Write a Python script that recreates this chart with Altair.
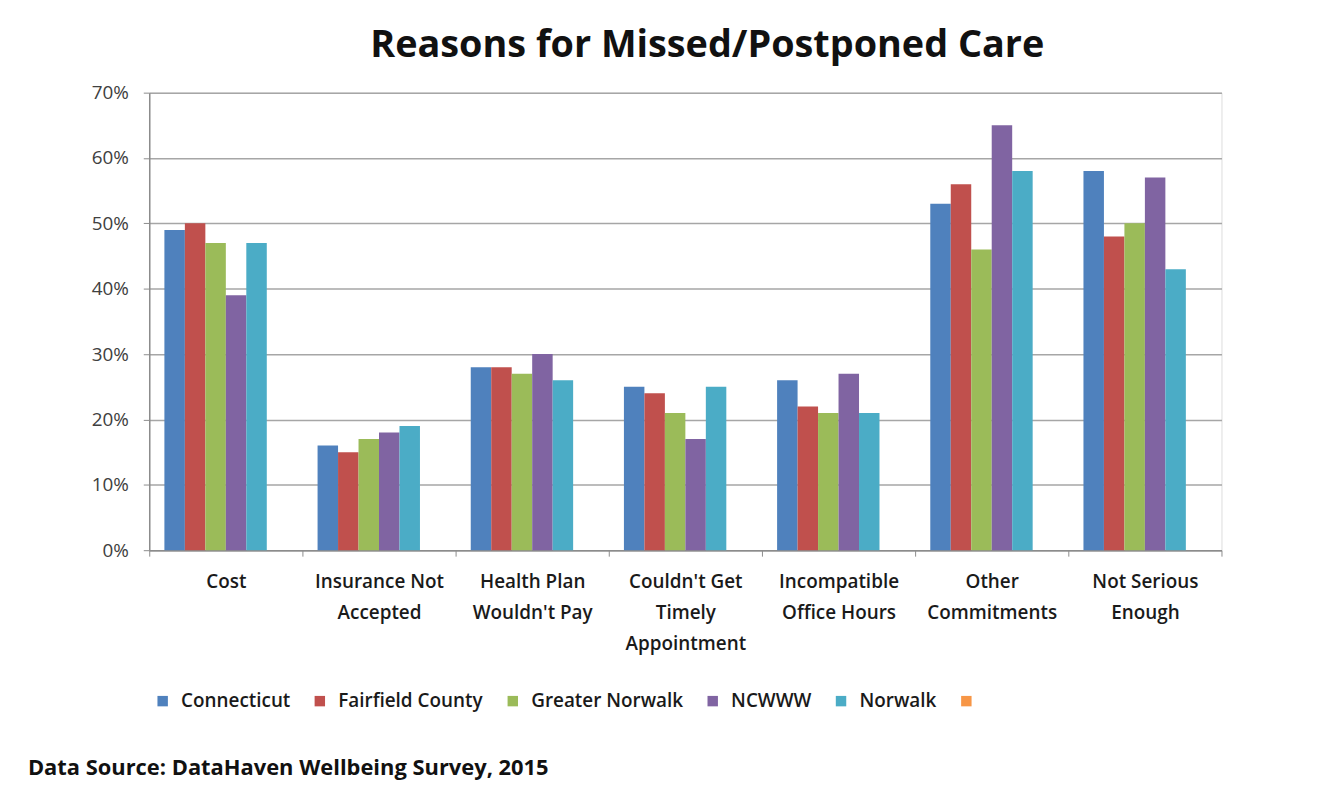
import altair as alt
import pandas as pd

categories = [
    "Cost",
    "Insurance Not|Accepted",
    "Health Plan|Wouldn't Pay",
    "Couldn't Get|Timely|Appointment",
    "Incompatible|Office Hours",
    "Other|Commitments",
    "Not Serious|Enough",
]
series = ["Connecticut", "Fairfield County", "Greater Norwalk", "NCWWW", "Norwalk", " "]
connecticut = [49, 16, 28, 25, 26, 53, 58]
fairfield = [50, 15, 28, 24, 22, 56, 48]
greater_norwalk = [47, 17, 27, 21, 21, 46, 50]
ncwww = [39, 18, 30, 17, 27, 65, 57]
norwalk = [47, 19, 26, 25, 21, 58, 43]
colors = ["#4F81BD", "#C0504D", "#9BBB59", "#8064A2", "#4BACC6", "#F79646"]
y_ticks = [0, 10, 20, 30, 40, 50, 60, 70]
title_text = "Reasons for Missed/Postponed Care"
footer_text = "Data Source: DataHaven Wellbeing Survey, 2015"

rows = []
for name, vals in zip(series[:5], [connecticut, fairfield, greater_norwalk, ncwww, norwalk]):
    for cat, v in zip(categories, vals):
        rows.append({"category": cat, "series": name, "value": v})
df = pd.DataFrame(rows)

FONT = "Open Sans"
W, H = 1078, 460

bars = alt.Chart(df).mark_bar().encode(
    x=alt.X(
        "category:N",
        sort=categories,
        scale=alt.Scale(domain=categories, paddingInner=0, paddingOuter=0),
        axis=alt.Axis(
            title=None,
            labelAngle=0,
            labelExpr="split(datum.label, '|')",
            tickBand="extent",
            labelFontSize=19,
            labelFontWeight=600,
            labelFont=FONT,
            labelColor="#1a1a1a",
            labelLineHeight=31,
            labelPadding=17,
            labelBaseline="top",
            tickSize=6,
            tickColor="#8c8c8c",
            domainColor="#8c8c8c",
            domainWidth=1.5,
            grid=False,
        ),
    ),
    xOffset=alt.XOffset(
        "series:N",
        scale=alt.Scale(domain=series, paddingInner=0, paddingOuter=0.74),
    ),
    y=alt.Y(
        "value:Q",
        scale=alt.Scale(domain=[0, 70], nice=False),
        axis=alt.Axis(
            title=None,
            values=y_ticks,
            labelExpr="datum.value + '%'",
            labelFontSize=19,
            labelFont=FONT,
            labelColor="#404040",
            labelPadding=15,
            tickSize=6,
            tickColor="#8c8c8c",
            domainColor="#8c8c8c",
            domainWidth=1.5,
            grid=True,
            gridColor="#a6a6a6",
            gridWidth=1.5,
        ),
    ),
    color=alt.Color(
        "series:N",
        scale=alt.Scale(domain=series, range=colors),
        legend=alt.Legend(
            title=None,
            orient="none",
            direction="horizontal",
            legendX=4,
            legendY=602,
            symbolType="square",
            symbolSize=110,
            symbolStrokeWidth=0,
            labelFontSize=19,
            labelFontWeight=600,
            labelFont=FONT,
            labelColor="#1a1a1a",
            labelOffset=9,
            columnPadding=20,
        ),
    ),
)

footer = alt.Chart(pd.DataFrame({"t": [footer_text]})).mark_text(
    align="left", baseline="middle", fontSize=22, fontWeight="bold", font=FONT, color="#111111"
).encode(text="t:N", x=alt.value(-122), y=alt.value(679))

chart = alt.layer(bars, footer).properties(
    width=W,
    height=H,
    title=alt.TitleParams(
        title_text,
        fontSize=38,
        font=FONT,
        fontWeight="bold",
        anchor="middle",
        dx=22,
        offset=19,
        color="#111111",
    ),
    autosize=alt.AutoSizeParams(type="none"),
    padding={"left": 142, "top": 83, "right": 90, "bottom": 240},
).configure_view(stroke=None).configure(background="white")

chart.save("out.html", embed_options={"renderer": "svg", "actions": False})
